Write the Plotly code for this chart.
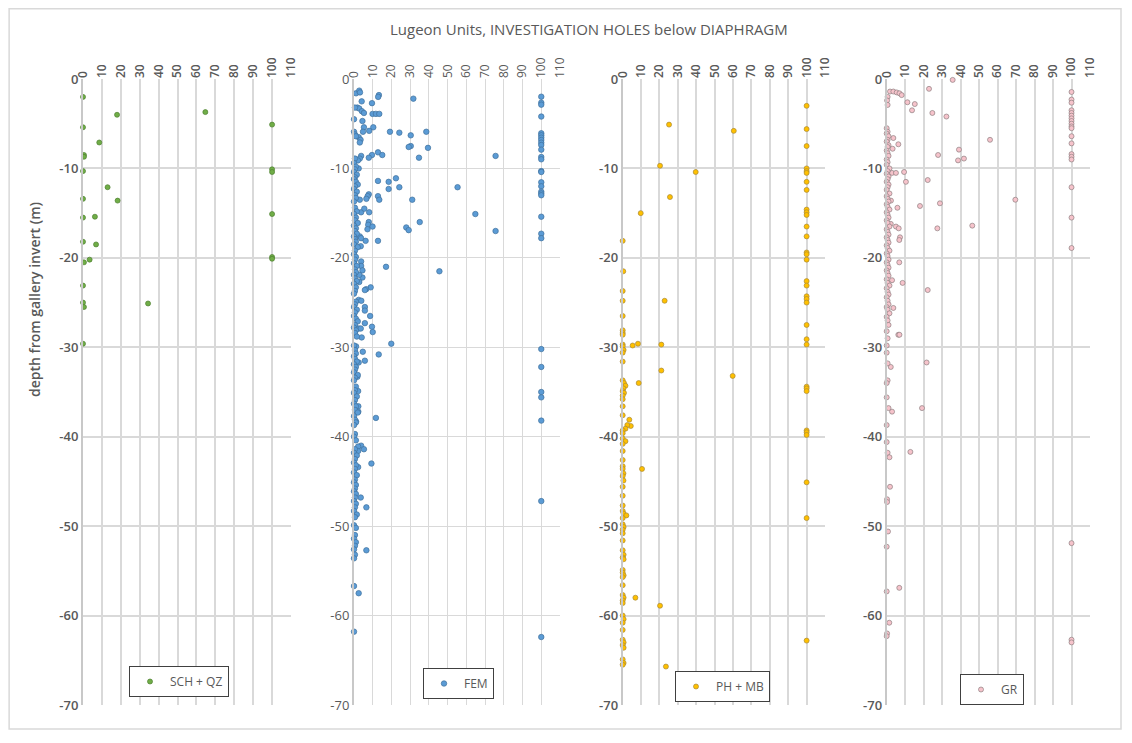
import plotly.graph_objects as go

# ---------------- data ----------------
sch_lu = [0, 18, 64.7, 100, 0, 8.6, 0.5, 0.5, 0, 100, 100, 13, 0, 18.3, 0, 6.3, 100, 0, 6.9, 0.5, 3.5, 100, 100, 0, 0, 0.5, 34.4, 0]
sch_depth = [-2.0, -4.0, -3.7, -5.1, -5.4, -7.1, -8.5, -8.7, -10.3, -10.1, -10.4, -12.1, -13.4, -13.6, -15.5, -15.4, -15.1, -18.2, -18.5, -20.5, -20.2, -19.9, -20.1, -23.1, -25.0, -25.5, -25.1, -29.6]

fem_lu = [1.1, 2.8, 3.2, 4.1, 13.3, 12.9, 31.7, 9.6, 1.8, 2.8,
          4.2, 5.3, 9.9, 11.7, 13.5, 4.5, 10.3, 5.3, 8.1, 4.8,
          19.2, 24.2, 30.3, 38.6, 2.5, 3.5, 3.1, 30.3, 29.2, 39.5,
          12.8, 15.1, 9.6, 7.9, 3.8, 3.1, 2.1, 34.7, 75.6, 2.5,
          12.8, 18.5, 18.5, 22.4, 24.2, 55.3, 7.9, 7.3, 6.6, 12.8,
          13.5, 3.1, 31.1, 3.8, 5.5, 8.1, 64.8, 35.1, 7.9, 7.6,
          7.2, 9.9, 27.9, 29.2, 75.6, 3.1, 3.8, 6.2, 12.8, 3.6,
          17.1, 45.6, 3.8, 3.8, 4.5, 4.5, 2.8, 2.8, 8.9, 6.5,
          5.8, 2.5, 3.9, 5.8, 5.8, 8.6, 5.8, 2.5, 3.6, 9.6,
          10.0, 4.1, 19.9, 1.1, 4.7, 13.2, 5.8, 2.5, 1.8, 2.2,
          2.3, 2.3, 11.7, 1.1, 3.8, 2.2, 5.3, 2.2, 2.2, 9.3,
          3.6, 6.6, 6.6, 2.5, 0, 0]
fem_depth = [-1.6, -1.3, -1.5, -2.5, -1.8, -2.0, -2.2, -2.7, -3.2, -3.3,
             -3.6, -3.8, -3.9, -3.9, -3.9, -4.7, -5.4, -5.4, -5.8, -5.9,
             -5.9, -6.0, -6.3, -5.9, -6.5, -6.8, -7.1, -7.5, -7.6, -7.7,
             -8.2, -8.5, -8.5, -8.8, -8.6, -8.9, -9.1, -8.8, -8.6, -10.0,
             -11.4, -11.5, -12.3, -11.1, -12.1, -12.1, -12.9, -13.1, -13.4, -13.1,
             -13.5, -13.5, -13.5, -14.9, -14.5, -14.9, -15.1, -16.0, -16.0, -16.3,
             -16.8, -16.5, -16.6, -16.9, -17.0, -17.6, -17.8, -18.1, -18.1, -18.7,
             -21.0, -21.5, -20.4, -20.9, -21.4, -22.2, -21.9, -22.7, -23.3, -23.5,
             -23.6, -24.7, -24.8, -25.5, -25.9, -26.5, -27.3, -27.9, -27.9, -27.7,
             -28.3, -28.9, -29.6, -29.9, -30.5, -30.8, -31.5, -31.7, -33.3, -34.9,
             -36.6, -37.2, -37.9, -38.3, -41.0, -41.1, -41.4, -41.6, -43.4, -43.0,
             -46.8, -47.9, -52.7, -57.5, -56.7, -61.8]
fem_depth_at100 = [-1.98, -2.65, -2.87, -4.2, -6.07, -6.3, -6.56, -6.82, -7.12, -7.38,
                   -7.9, -8.72, -8.98, -10.3, -10.4, -11.55, -12.0, -12.6, -12.8, -13.0,
                   -15.4, -17.3, -17.8, -30.2, -32.2, -35.0, -35.6, -38.2, -47.2, -62.4]
fem_lu_low = [0.5, 0, 0, 0.5, 1, 0.5, 0, 1, 0.5, 0,
              1.5, 0.5, 0, 1, 2, 0.5, 0, 1.5, 0.5, 1,
              0, 0.5, 1.5, 0, 1, 0.5, 2, 0, 1, 0.5,
              1.5, 0, 0.5, 1, 0, 2, 0.5, 0, 1, 0.5,
              0, 1.5, 0.5, 1, 0, 0.5, 1.5, 0, 1, 0.5,
              0, 1, 0.5, 0, 1.5, 0.5, 0, 1, 2, 0.5,
              0, 1, 0.5, 1.5, 0, 0.5, 1, 0, 0.5, 1.5,
              0, 1, 0.5, 0, 2, 0.5, 0, 1, 0.5, 0,
              1.5, 0.5, 0, 1, 0.5, 2, 0, 0.5, 1, 0,
              0.5, 0, 1, 0.5, 0, 1.5, 0.5, 0, 1, 0.5,
              0, 1.5, 0.5, 0, 1, 0.5, 0, 1, 0.5, 0,
              1, 0.5, 0, 1.5, 0.5, 0, 1, 0.5, 0, 1,
              0.5, 0, 0.5, 0]
fem_depth_low = [-3.2, -4.5, -5.9, -6.2, -6.4, -8.9, -9.4, -9.8, -10.1, -10.4,
                 -10.7, -11.0, -11.2, -11.5, -11.8, -12.0, -12.3, -12.6, -13.0, -13.3,
                 -13.7, -14.4, -14.8, -15.1, -15.5, -15.8, -16.1, -16.4, -16.7, -17.0,
                 -17.3, -17.6, -17.9, -18.2, -18.5, -18.8, -19.2, -19.6, -19.9, -20.2,
                 -20.6, -20.9, -21.3, -21.6, -21.9, -22.3, -22.6, -22.9, -23.3, -23.7,
                 -24.0, -24.9, -25.2, -25.5, -25.8, -26.1, -26.5, -26.8, -27.1, -27.5,
                 -27.8, -28.1, -28.4, -28.8, -29.8, -30.3, -30.7, -31.0, -31.3, -31.6,
                 -31.9, -32.2, -32.5, -32.8, -33.1, -33.4, -33.7, -34.4, -34.8, -35.1,
                 -35.5, -35.9, -36.3, -36.6, -37.0, -37.3, -37.7, -38.1, -38.4, -38.7,
                 -39.7, -40.0, -40.4, -41.4, -41.8, -42.1, -42.5, -42.9, -43.2, -43.6,
                 -44.0, -44.3, -44.8, -45.1, -45.4, -45.8, -46.1, -46.4, -46.8, -47.2,
                 -47.5, -47.9, -48.3, -48.7, -49.0, -49.9, -50.2, -51.0, -51.4, -51.8,
                 -52.2, -52.6, -53.2, -53.6]

phmb_lu = [25.2, 60.4, 20.3, 39.7, 25.7, 9.8, 0, 0.3, 0, 0,
           22.8, 0, 0, 0, 0, 0, 0, 0.5, 0, 5.4,
           8.3, 21.0, 21.0, 0, 59.8, 8.7, 0, 0.7, 1.5, 0.4,
           0, 0.7, 0, 0, 0, 0, 3.6, 4.4, 2.5, 1.5,
           0, 0, 0, 1.5, 0, 0, 0, 0, 0, 0.4,
           0, 0.4, 0, 10.5, 6.9, 20.3, 23.5]
phmb_depth = [-5.1, -5.8, -9.7, -10.4, -13.2, -15.0, -18.1, -21.5, -23.7, -24.8,
              -24.8, -26.5, -28.1, -28.4, -28.6, -29.7, -29.9, -30.3, -30.6, -29.8,
              -29.6, -29.7, -32.6, -31.6, -33.2, -34.0, -33.7, -34.0, -34.3, -34.6,
              -34.9, -35.1, -35.4, -35.8, -36.6, -37.6, -38.1, -38.8, -38.7, -39.1,
              -39.3, -39.6, -40.2, -40.5, -40.8, -41.6, -42.6, -43.3, -43.6, -44.1,
              -44.4, -44.9, -45.6, -43.6, -58.0, -58.9, -65.7]
phmb_lu_low = [0, 0, 0, 0.5, 2, 0, 0, 0.5, 0, 0,
               0, 0, 0.5, 0, 0.5, 0, 0, 0.5, 0, 0,
               0, 0.5, 0, 0, 0, 0.5, 0, 0, 0, 0.5,
               0, 0.5, 0, 0.5, 0]
phmb_depth_low = [-46.6, -47.7, -48.3, -48.6, -48.8, -49.1, -49.8, -50.1, -50.4, -50.8,
                  -51.6, -52.7, -53.2, -53.5, -53.7, -54.9, -55.2, -55.5, -55.7, -56.6,
                  -57.7, -58.0, -58.3, -58.6, -60.0, -60.4, -60.8, -61.6, -62.7, -63.0,
                  -63.3, -63.6, -64.9, -65.3, -65.5]
phmb_depth_at100 = [-3.0, -5.6, -7.5, -10.0, -10.3, -10.5, -11.5, -12.4, -14.6, -14.9,
                    -15.2, -16.5, -17.6, -19.4, -19.6, -20.2, -22.6, -23.1, -24.3, -24.6,
                    -25.0, -27.5, -29.1, -29.7, -34.4, -34.6, -34.9, -39.3, -39.5, -39.8,
                    -45.1, -49.1, -62.8]

gr_lu = [35.7, 22.9, 1.8, 3.6, 5.4, 6.9, 8.1, 0.5, 0.2, 0.5,
         11.2, 15.2, 13.7, 24.7, 32.3, 55.9, 3.6, 3.2, 6.3, 39.1,
         38.6, 41.8, 27.8, 2.9, 5.0, 9.4, 10.4, 22.2, 69.6, 2.3,
         5.8, 18.0, 28.8, 46.3, 27.4, 2.2, 5.0, 6.5, 7.2, 6.8,
         6.8, 2.9, 8.6, 22.2, 3.6, 6.3, 6.9, 21.6, 19.1, 2.2,
         2.9, 12.8, 0, 0.5, 0.5, 0, 0, 1, 0, 0,
         0.5, 1.5, 1.8, 0.2, 0.2, 0.7, 0, 0, 6.8, 1.4,
         0.2, 0]
gr_depth = [-0.1, -1.1, -1.4, -1.4, -1.5, -1.6, -1.8, -2.0, -2.4, -2.9,
            -2.6, -2.8, -3.5, -3.8, -4.2, -6.8, -6.6, -7.8, -7.3, -7.9,
            -9.1, -8.9, -8.5, -10.5, -10.5, -10.4, -11.5, -11.3, -13.5, -13.6,
            -14.4, -14.2, -13.9, -16.4, -16.7, -16.2, -16.5, -16.7, -17.7, -18.0,
            -20.5, -22.5, -22.8, -23.6, -25.6, -28.6, -28.6, -31.7, -36.8, -32.2,
            -37.2, -41.7, -30.6, -31.8, -33.7, -34.0, -35.6, -36.8, -38.7, -40.6,
            -41.8, -42.3, -45.6, -47.0, -47.3, -50.6, -52.3, -57.3, -56.9, -60.8,
            -62.0, -62.3]
gr_lu_low = [0, 0.5, 0, 1, 0.5, 0, 1, 0.5, 0, 0.5,
             1, 0, 0.5, 0, 1.5, 0.5, 0, 1, 0.5, 0,
             1, 0.5, 0, 1.5, 0, 0.5, 1, 0, 0.5, 1.5,
             0, 0.5, 1, 0, 0.5, 1.5, 0, 0.5, 1, 0,
             0.5, 1, 0, 0.5, 1.5, 0, 0.5, 1, 0, 0.5,
             1, 0, 0.5, 1, 0, 0.5, 1.5, 0, 0.5, 1,
             0, 0.5, 1, 0, 0.5, 1.5, 0, 0.5, 1, 0,
             0.5, 0]
gr_depth_low = [-5.5, -5.9, -6.1, -6.4, -6.8, -7.0, -7.4, -7.6, -8.0, -8.3,
                -8.6, -9.0, -9.3, -9.6, -10.0, -10.3, -10.6, -10.9, -11.2, -11.5,
                -11.8, -12.1, -12.4, -12.8, -13.1, -13.4, -13.7, -14.0, -14.3, -14.6,
                -14.9, -15.2, -15.5, -15.8, -16.1, -16.5, -16.8, -17.1, -17.4, -17.7,
                -18.0, -18.3, -18.6, -18.9, -19.2, -19.5, -19.8, -20.2, -20.5, -20.8,
                -21.1, -21.4, -21.7, -22.0, -22.4, -22.8, -23.1, -23.4, -23.8, -24.1,
                -24.4, -24.8, -25.2, -25.5, -25.8, -26.2, -26.6, -27.0, -27.5, -28.2,
                -29.0, -29.8]
gr_depth_at100 = [-1.45, -2.3, -2.65, -3.5, -3.8, -4.1, -4.4, -4.7, -5.0, -5.3,
                  -5.5, -6.4, -7.2, -8.4, -8.7, -9.0, -12.1, -15.5, -18.9, -51.9,
                  -62.7, -63.0]

series_names = ["SCH + QZ", "FEM", "PH + MB", "GR"]
x_ticks = [0, 10, 20, 30, 40, 50, 60, 70, 80, 90, 100, 110]
y_ticks = [0, -10, -20, -30, -40, -50, -60, -70]
title_text = "Lugeon Units, INVESTIGATION HOLES below DIAPHRAGM"
y_title = "depth from gallery invert (m)"

# ---------------- assemble ----------------
fem_x = fem_lu + fem_lu_low + [100.0] * len(fem_depth_at100)
fem_y = fem_depth + fem_depth_low + fem_depth_at100
ph_x = phmb_lu + phmb_lu_low + [100.0] * len(phmb_depth_at100)
ph_y = phmb_depth + phmb_depth_low + phmb_depth_at100
gr_x = gr_lu + gr_lu_low + [100.0] * len(gr_depth_at100)
gr_y = gr_depth + gr_depth_low + gr_depth_at100

OFF = 8  # page body margin
W, H = 1124, 735
FONT = "'Open Sans', Lato, sans-serif"
TXT = "#595959"
GRID = "#D9D9D9"


def fx(p):
    return (p - OFF) / W


def fy(p):
    return 1 - (p - OFF) / H


# data, fill, edge, marker size, x-extent px, legend pos px, grid width, label weight
panels = [
    (sch_lu, sch_depth, "#70AD47", "#4E7F31", 5, (83, 291), (129, 666), 2, 600),
    (fem_x, fem_y, "#5B9BD5", "#41719C", 5.5, (354, 560), (423, 668), 1.2, 400),
    (ph_x, ph_y, "#FFC000", "#A88A3A", 5, (622.7, 825), (675, 671), 2, 600),
    (gr_x, gr_y, "#F6C3CB", "#8E7F81", 5, (886.7, 1090), (960, 674), 2, 600),
]

fig = go.Figure()
layout = dict(
    template="none",
    width=W, height=H,
    margin=dict(l=0, r=0, t=0, b=0, autoexpand=False),
    paper_bgcolor="white", plot_bgcolor="white",
    font=dict(family=FONT, color=TXT, size=12),
    showlegend=True,
)

for i, (xs, ys, fill, edge, msz, (xl, xr), (lx, ly), gw, wt) in enumerate(panels):
    n = "" if i == 0 else str(i + 1)
    leg = "legend" + n
    fig.add_trace(go.Scatter(
        x=xs, y=ys, mode="markers", name=series_names[i],
        xaxis="x" + n, yaxis="y" + n, legend=leg,
        marker=dict(size=msz, color=fill, line=dict(color=edge, width=0.7)),
        cliponaxis=False,
    ))
    layout["xaxis" + n] = dict(
        domain=[fx(xl), fx(xr)], anchor="y" + n, side="top",
        range=[0, 110], tickmode="array", tickvals=x_ticks,
        ticktext=[str(t) for t in x_ticks], tickangle=-90,
        showgrid=True, gridcolor=GRID, gridwidth=gw,
        zeroline=False, showline=False, ticks="", automargin=False,
        tickfont=dict(size=12, color=TXT, family=FONT, weight=wt),
        fixedrange=True,
    )
    layout["yaxis" + n] = dict(
        domain=[fy(705), fy(79)], anchor="x" + n,
        range=[-70, 0], tickmode="array", tickvals=y_ticks,
        ticktext=[str(t) for t in y_ticks],
        showgrid=True, gridcolor=GRID, gridwidth=gw,
        zeroline=False, showline=True, linecolor="#C8C8C8", linewidth=2,
        ticks="", automargin=False,
        tickfont=dict(size=13, color=TXT, family=FONT, weight=wt),
        fixedrange=True,
    )
    layout[leg] = dict(
        x=fx(lx), y=fy(ly), xanchor="left", yanchor="top",
        bgcolor="white", bordercolor="#404040", borderwidth=1,
        font=dict(size=12, color=TXT, family=FONT),
        itemwidth=30, tracegroupgap=0,
    )

fig.update_layout(**layout)

fig.add_annotation(
    text=title_text, xref="paper", yref="paper", x=fx(589), y=fy(29),
    showarrow=False, xanchor="center", yanchor="middle",
    font=dict(size=15, color=TXT, family=FONT),
)
fig.add_annotation(
    text=y_title, xref="paper", yref="paper", x=fx(35), y=fy(300),
    showarrow=False, xanchor="center", yanchor="middle", textangle=-90,
    font=dict(size=14, color=TXT, family=FONT, weight=600),
)
fig.add_shape(type="rect", xref="paper", yref="paper",
              x0=0.001, x1=fx(1121), y0=fy(729), y1=0.999,
              line=dict(color=GRID, width=1.5), fillcolor="rgba(0,0,0,0)", layer="below")

fig.write_html("out.html")
